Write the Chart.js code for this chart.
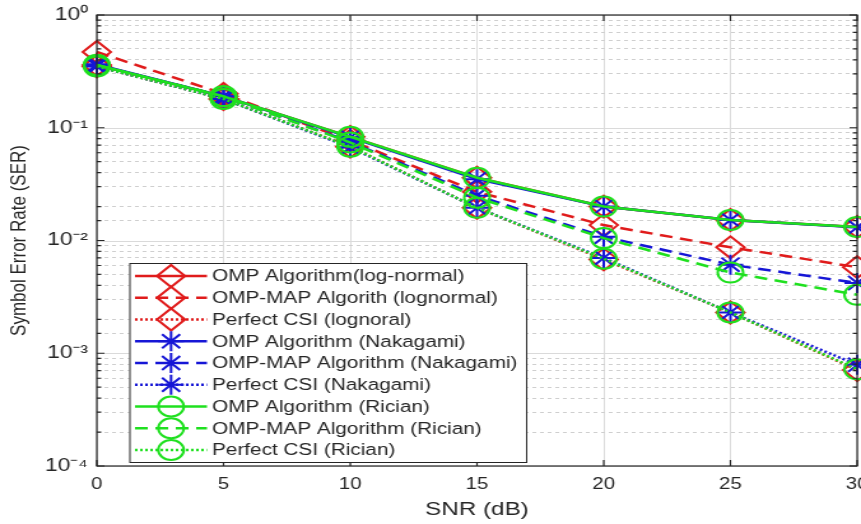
<!DOCTYPE html>
<html><head><meta charset="utf-8">
<script src="https://cdn.jsdelivr.net/npm/chart.js@4.4.1/dist/chart.umd.min.js"></script>
<style>
html,body{margin:0;padding:0;background:#fff;overflow:hidden;width:861px;height:524px}
#c{display:block;transform:scaleX(1.27367);transform-origin:0 0}
</style></head><body>
<canvas id="c" width="676" height="524"></canvas>
<script>
// ---------------- data ----------------
const snr = [0, 5, 10, 15, 20, 25, 30];
const yDecades = [1e-4, 1e-3, 1e-2, 1e-1, 1];
const yTickLabels = ['10\u207B\u2074', '10\u207B\u00B3', '10\u207B\u00B2', '10\u207B\u00B9', '10\u2070'];
const seriesNames = [
  'OMP Algorithm(log-normal)',
  'OMP-MAP Algorith (lognormal)',
  'Perfect CSI (lognoral)',
  'OMP Algorithm (Nakagami)',
  'OMP-MAP Algorithm (Nakagami)',
  'Perfect CSI (Nakagami)',
  'OMP Algorithm (Rician)',
  'OMP-MAP Algorithm (Rician)',
  'Perfect CSI (Rician)'
];
const ompLognormal      = [0.36, 0.19, 0.083, 0.036, 0.020, 0.0152, 0.0132];
const ompMapLognormal   = [0.47, 0.20, 0.077, 0.027, 0.0137, 0.0087, 0.0058];
const perfectLognormal  = [0.35, 0.18, 0.068, 0.0195, 0.0068, 0.0023, 0.00071];
const ompNakagami       = [0.365, 0.19, 0.082, 0.035, 0.020, 0.0152, 0.0131];
const ompMapNakagami    = [0.36, 0.19, 0.075, 0.025, 0.0108, 0.0061, 0.0042];
const perfectNakagami   = [0.35, 0.18, 0.067, 0.0195, 0.0070, 0.0023, 0.00079];
const ompRician         = [0.36, 0.19, 0.083, 0.036, 0.020, 0.0152, 0.0132];
const ompMapRician      = [0.36, 0.19, 0.074, 0.024, 0.0105, 0.0052, 0.0033];
const perfectRician     = [0.35, 0.18, 0.068, 0.0195, 0.0069, 0.0023, 0.00072];
const allSeries = [ompLognormal, ompMapLognormal, perfectLognormal,
                   ompNakagami, ompMapNakagami, perfectNakagami,
                   ompRician, ompMapRician, perfectRician];

// ---------------- styles ----------------
const FONT = '"Liberation Sans", Arial, sans-serif';
const TXT = '#262626';
const RED = '#e01b1b', BLUE = '#1616d6', GREEN = '#1fe01f';
const colors = [RED, RED, RED, BLUE, BLUE, BLUE, GREEN, GREEN, GREEN];
const dashes = [[], [10, 6], [2, 2], [], [10, 6], [2, 2], [], [10, 6], [2, 2]];
const pstyles = ['rectRot','rectRot','rectRot','star','star','star','circle','circle','circle'];
const pradius = {rectRot: 11, star: 10, circle: 10};

const datasets = allSeries.map((s, i) => ({
  label: seriesNames[i],
  data: snr.map((x, k) => ({x: x, y: s[k]})),
  borderColor: colors[i],
  borderWidth: 2.5,
  borderDash: dashes[i],
  pointStyle: pstyles[i],
  pointRadius: pradius[pstyles[i]],
  pointBorderWidth: 2,
  pointBorderColor: colors[i],
  pointBackgroundColor: 'rgba(0,0,0,0)',
  tension: 0,
  clip: false,
  order: 8 - i
}));

function isDecade(v) {
  const l = Math.log10(v);
  return Math.abs(l - Math.round(l)) < 1e-6;
}

function drawMarker(ctx, style, x, y, r) {
  ctx.beginPath();
  if (style === 'circle') {
    ctx.arc(x, y, r, 0, Math.PI * 2);
  } else if (style === 'rectRot') {
    ctx.moveTo(x - r, y); ctx.lineTo(x, y - r); ctx.lineTo(x + r, y); ctx.lineTo(x, y + r); ctx.closePath();
  } else if (style === 'star') {
    const d = r * Math.SQRT1_2;
    ctx.moveTo(x, y - r); ctx.lineTo(x, y + r);
    ctx.moveTo(x - r, y); ctx.lineTo(x + r, y);
    ctx.moveTo(x - d, y - d); ctx.lineTo(x + d, y + d);
    ctx.moveTo(x - d, y + d); ctx.lineTo(x + d, y - d);
  }
  ctx.stroke();
}

const frame = {
  id: 'frame',
  beforeDraw(chart) {
    const ctx = chart.ctx;
    ctx.save();
    ctx.fillStyle = '#fff';
    ctx.fillRect(0, 0, chart.width, chart.height);
    ctx.restore();
  },
  beforeDatasetsDraw(chart) {
    const ctx = chart.ctx, a = chart.chartArea, ys = chart.scales.y;
    ctx.save();
    ctx.strokeStyle = '#dadada';
    ctx.lineWidth = 1;
    yDecades.forEach(v => {
      const py = Math.round(ys.getPixelForValue(v)) + 0.5;
      ctx.beginPath(); ctx.moveTo(a.left, py); ctx.lineTo(a.right, py); ctx.stroke();
    });
    ctx.restore();
  },
  afterDatasetsDraw(chart) {
    const ctx = chart.ctx, a = chart.chartArea, ys = chart.scales.y, xs = chart.scales.x;
    ctx.save();
    // box
    ctx.strokeStyle = TXT;
    ctx.lineWidth = 1.2;
    ctx.setLineDash([]);
    ctx.strokeRect(a.left, a.top, a.right - a.left, a.bottom - a.top);
    // inner ticks
    ys.ticks.forEach(t => {
      const py = ys.getPixelForValue(t.value);
      const len = isDecade(t.value) ? 6 : 3.5;
      ctx.beginPath();
      ctx.moveTo(a.left, py); ctx.lineTo(a.left + len, py);
      ctx.moveTo(a.right, py); ctx.lineTo(a.right - len, py);
      ctx.stroke();
    });
    xs.ticks.forEach(t => {
      const px = xs.getPixelForValue(t.value);
      ctx.beginPath();
      ctx.moveTo(px, a.bottom); ctx.lineTo(px, a.bottom - 6);
      ctx.moveTo(px, a.top); ctx.lineTo(px, a.top + 6);
      ctx.stroke();
    });
    // legend
    const L = {left: 101.5, top: 263, right: 413, bottom: 462};
    ctx.fillStyle = '#fff';
    ctx.fillRect(L.left, L.top, L.right - L.left, L.bottom - L.top);
    ctx.strokeStyle = TXT;
    ctx.lineWidth = 1;
    ctx.strokeRect(L.left + 0.5, L.top + 0.5, L.right - L.left, L.bottom - L.top);
    ctx.font = '16.3px ' + FONT;
    ctx.textBaseline = 'middle';
    ctx.textAlign = 'left';
    seriesNames.forEach((name, i) => {
      const y = 276 + i * 21.75;
      ctx.strokeStyle = colors[i];
      ctx.lineWidth = 2.5;
      ctx.setLineDash(dashes[i]);
      ctx.beginPath(); ctx.moveTo(106, y); ctx.lineTo(162.5, y); ctx.stroke();
      ctx.setLineDash([]);
      ctx.lineWidth = 2;
      drawMarker(ctx, pstyles[i], 134.3, y, pradius[pstyles[i]]);
      ctx.fillStyle = TXT;
      ctx.fillText(name, 166.5, y + 1);
    });
    ctx.restore();
  }
};

new Chart(document.getElementById('c'), {
  type: 'line',
  data: {datasets},
  options: {
    responsive: false,
    animation: false,
    devicePixelRatio: 1,
    layout: {autoPadding: false, padding: {top: 15, right: 3, left: 0, bottom: 0}},
    plugins: {legend: {display: false}, tooltip: {enabled: false}},
    scales: {
      x: {
        type: 'linear', min: 0, max: 30,
        ticks: {stepSize: 5, font: {family: FONT, size: 16}, color: TXT, padding: 9, maxRotation: 0, autoSkip: false},
        grid: {color: '#dcdcdc', lineWidth: 1, drawTicks: false},
        border: {display: false},
        title: {display: true, text: 'SNR (dB)', font: {family: FONT, size: 19}, color: TXT, padding: {top: 0, bottom: 3}},
        afterFit(s) { s.height = 58; s.paddingLeft = 0; s.paddingRight = 0; }
      },
      y: {
        type: 'logarithmic', min: 1e-4, max: 1,
        ticks: {
          autoSkip: false, font: {family: FONT, size: 18}, color: TXT, padding: 7,
          callback(v) {
            const i = yDecades.findIndex(d => Math.abs(d - v) / d < 1e-6);
            return i >= 0 ? yTickLabels[i] : '';
          }
        },
        grid: {
          color(c) { return (c.tick && isDecade(c.tick.value)) ? 'rgba(0,0,0,0)' : '#cfcfcf'; },
          lineWidth: 1, drawTicks: false
        },
        border: {display: false, dash: [3, 3]},
        title: {display: true, text: 'Symbol Error Rate (SER)', font: {family: FONT, size: 17}, color: TXT, padding: {top: 5, bottom: 0}},
        afterFit(s) { s.width = 76; s.paddingTop = 0; s.paddingBottom = 0; }
      }
    }
  },
  plugins: [frame]
});
</script>
</body></html>
